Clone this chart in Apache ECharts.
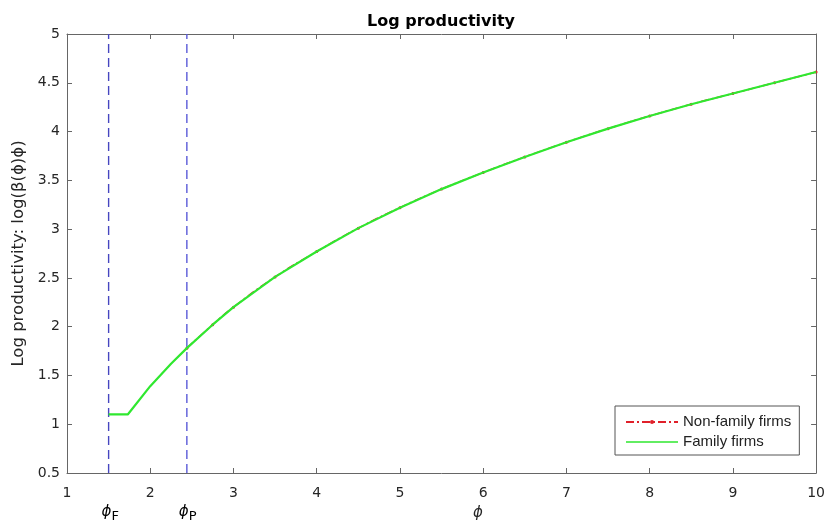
<!DOCTYPE html>
<html><head><meta charset="utf-8">
<script src="https://cdn.jsdelivr.net/npm/echarts@6/dist/echarts.min.js"></script>
<style>html,body{margin:0;padding:0;background:#fff}#c{width:828px;height:532px}</style>
</head><body><div id="c"></div>
<script>
// Values
const familyPhi      = [1.5, 1.73, 2.0, 2.25, 2.44, 2.75, 3.0, 3.5, 4.0, 4.5, 5.0, 5.5, 6.0, 6.5, 7.0, 7.5, 8.0, 8.5, 9.0, 9.5, 10.0];
const familyValues   = [1.10, 1.10, 1.39, 1.62, 1.78, 2.02, 2.20, 2.51, 2.77, 3.01, 3.22, 3.41, 3.58, 3.74, 3.89, 4.03, 4.16, 4.28, 4.39, 4.50, 4.61];
const nonFamilyPhi   = [2.44, 2.75, 3.0, 3.5, 4.0, 4.5, 5.0, 5.5, 6.0, 6.5, 7.0, 7.5, 8.0, 8.5, 9.0, 9.5, 10.0];
const nonFamilyValues= [1.78, 2.02, 2.20, 2.51, 2.77, 3.01, 3.22, 3.41, 3.58, 3.74, 3.89, 4.03, 4.16, 4.28, 4.39, 4.50, 4.61];
const phiF = 1.5;
const phiP = 2.44;
const xRange = [1, 10];
const yRange = [0.5, 5];

const FONT = 'Liberation Sans';
const DJ = 'DejaVu Sans';
const axisColor = '#666';
const textColor = '#262626';
const PHI = '\u03D5';
const zip = (xs, ys) => xs.map((x, i) => [x, ys[i]]);

const chart = echarts.init(document.getElementById('c'));
const tickCommon = {show: true, inside: true, length: 5, lineStyle: {color: axisColor}};
const lineIcon = 'path://M0,0H0.05V0.05H0Z M0,1.8H52V3.2H0Z M51.95,4.95H52V5H51.95Z';
chart.setOption({
  animation: false,
  backgroundColor: '#fff',
  title: {
    text: 'Log productivity', left: 436, top: 9, textAlign: 'center',
    textStyle: {fontFamily: DJ, fontSize: 16, fontWeight: 'bold', color: '#000'}
  },
  grid: {left: 67, right: 11, top: 34, bottom: 59},
  legend: {
    data: [{name: 'Non-family firms'}, {name: 'Family firms', icon: lineIcon}],
    orient: 'vertical', left: 615, top: 406,
    itemWidth: 52, itemHeight: 5, itemGap: 4,
    padding: [8, 8, 5, 10],
    borderColor: '#555', borderWidth: 1, backgroundColor: '#fff',
    textStyle: {fontFamily: FONT, fontSize: 15, lineHeight: 16, color: '#222'}
  },
  xAxis: [
    {type: 'value', min: xRange[0], max: xRange[1], interval: 1, position: 'bottom',
     axisLine: {lineStyle: {color: axisColor}}, axisTick: tickCommon, splitLine: {show: false},
     axisLabel: {fontFamily: DJ, fontSize: 14, color: textColor, margin: 13}},
    {type: 'value', min: xRange[0], max: xRange[1], interval: 1, position: 'top',
     axisLine: {show: true, lineStyle: {color: axisColor}}, axisTick: tickCommon, splitLine: {show: false},
     axisLabel: {show: false}}
  ],
  yAxis: [
    {type: 'value', min: yRange[0], max: yRange[1], interval: 0.5, position: 'left',
     axisLine: {show: true, lineStyle: {color: axisColor}}, axisTick: tickCommon, splitLine: {show: false},
     axisLabel: {fontFamily: DJ, fontSize: 14, color: textColor, margin: 7},
     name: 'Log productivity: log(\u03B2(' + PHI + ')' + PHI + ')', nameLocation: 'middle', nameGap: 38,
     nameTextStyle: {fontFamily: DJ, fontSize: 16.5, color: textColor}},
    {type: 'value', min: yRange[0], max: yRange[1], interval: 0.5, position: 'right',
     axisLine: {show: true, lineStyle: {color: axisColor}}, axisTick: tickCommon, splitLine: {show: false},
     axisLabel: {show: false}}
  ],
  series: [
    {name: 'phiF', type: 'line', data: [[phiF, yRange[0]], [phiF, yRange[1]]], symbol: 'none', silent: true,
     lineStyle: {color: '#4646c0', width: 1.4, type: [9, 5]}, z: 1},
    {name: 'phiP', type: 'line', data: [[phiP, yRange[0]], [phiP, yRange[1]]], symbol: 'none', silent: true,
     lineStyle: {color: '#5a5ad8', width: 1.4, type: [9, 5]}, z: 1},
    {name: 'Non-family firms', type: 'line', data: zip(nonFamilyPhi, nonFamilyValues),
     smooth: true, symbol: 'circle', symbolSize: 3, showSymbol: true,
     itemStyle: {color: '#e0202a'},
     lineStyle: {color: '#e0202a', width: 1.5, type: [8, 3, 2, 3]}, z: 2},
    {name: 'Family firms', type: 'line', data: zip(familyPhi, familyValues),
     smooth: false, symbol: 'none',
     itemStyle: {color: '#2fe82f'},
     lineStyle: {color: '#2fe82f', width: 2.2}, z: 3}
  ],
  graphic: []
});

const pF = chart.convertToPixel({gridIndex: 0}, [phiF, yRange[0]]);
const pP = chart.convertToPixel({gridIndex: 0}, [phiP, yRange[0]]);
const pPhi = chart.convertToPixel({gridIndex: 0}, [5.95, yRange[0]]);
const rich = {
  a: {fontFamily: DJ, fontSize: 15, fontStyle: 'italic', color: textColor},
  s: {fontFamily: DJ, fontSize: 13, color: textColor, padding: [9, 0, 0, 0]}
};
chart.setOption({
  graphic: [
    {type: 'text', left: pF[0] - 7, top: pF[1] + 32,
     style: {text: '{a|' + PHI + '}{s|F}', rich: rich}},
    {type: 'text', left: pP[0] - 8, top: pP[1] + 32,
     style: {text: '{a|' + PHI + '}{s|P}', rich: rich}},
    {type: 'text', left: pPhi[0] - 6, top: pPhi[1] + 33,
     style: {text: PHI, font: 'italic 15px ' + DJ, fill: textColor}}
  ]
});
</script></body></html>
